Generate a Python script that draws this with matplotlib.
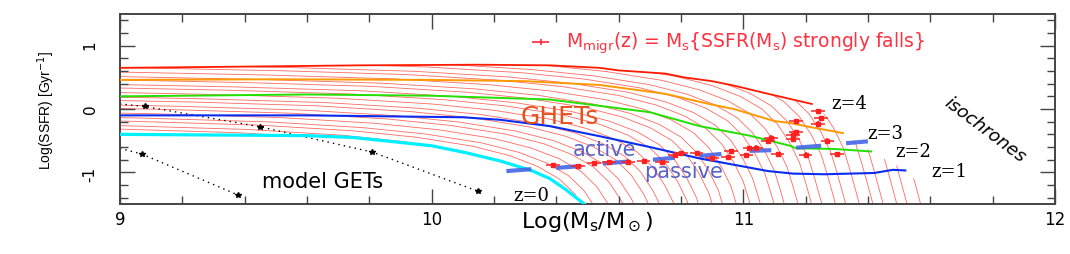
"""
SSFR versus stellar mass: isochrones from z=4 to z=0, galaxy tracks,
and the migration mass M_migr(z) where SSFR strongly falls.
"""

import numpy as np
import matplotlib
matplotlib.use('Agg')
import matplotlib.pyplot as plt
from matplotlib.patches import Polygon
from matplotlib.ticker import MultipleLocator

plt.rcParams['axes.unicode_minus'] = False

# isochrones (log Ms, log SSFR)
z4_mass = [9.0, 9.4, 9.77, 10.15, 10.38, 10.54, 10.6, 10.75, 10.81, 10.9, 10.97, 11.08, 11.15, 11.22]
z4_ssfr = [0.65, 0.67, 0.69, 0.70, 0.69, 0.65, 0.61, 0.56, 0.50, 0.44, 0.37, 0.24, 0.16, 0.08]
z3_mass = [9.0, 9.5, 10.0, 10.3, 10.54, 10.75, 10.89, 10.97, 11.1, 11.15, 11.22, 11.32]
z3_ssfr = [0.46, 0.47, 0.46, 0.44, 0.38, 0.24, 0.08, 0.0, -0.19, -0.22, -0.29, -0.38]
z2_mass = [9.0, 9.6, 10.0, 10.38, 10.54, 10.7, 10.86, 11.02, 11.15, 11.17, 11.29, 11.41]
z2_ssfr = [0.20, 0.23, 0.21, 0.15, 0.05, -0.05, -0.27, -0.42, -0.58, -0.62, -0.63, -0.67]
z1_mass = [9.0, 9.6, 10.1, 10.22, 10.38, 10.54, 10.7, 10.86, 10.97, 11.08, 11.16, 11.26, 11.34, 11.42, 11.48, 11.52]
z1_ssfr = [-0.10, -0.10, -0.13, -0.17, -0.27, -0.43, -0.60, -0.78, -0.88, -0.98, -1.02, -1.03, -1.02, -1.01, -0.96, -0.97]
z0_mass = [9.0, 9.6, 9.75, 10.0, 10.11, 10.22, 10.32, 10.38, 10.43, 10.49]
z0_ssfr = [-0.40, -0.42, -0.45, -0.58, -0.69, -0.82, -0.97, -1.10, -1.27, -1.50]

# right-hand edge of the track region
edge_mass = [11.22, 11.27, 11.32, 11.41, 11.52, 11.57, 11.60]
edge_ssfr = [0.08, -0.12, -0.38, -0.67, -0.97, -1.20, -1.50]

# one galaxy track (mass offset from its anchor, log SSFR)
track_dm = [-3.0, -2.0, -1.5, -1.1, -0.8, -0.6, -0.42, -0.30, -0.21, -0.14, -0.09, -0.05, -0.02, 0.0, 0.02, 0.05, 0.09]
track_ssfr = [0.70, 0.62, 0.57, 0.51, 0.42, 0.32, 0.18, 0.03, -0.14, -0.34, -0.58, -0.88, -1.18, -1.50, -1.85, -2.40, -3.20]
track_anchor = [10.44, 10.48, 10.51, 10.55, 10.58, 10.62, 10.66, 10.69, 10.73, 10.76, 10.80,
                10.84, 10.87, 10.91, 10.94, 10.98, 11.02, 11.05, 11.09, 11.12, 11.16, 11.20,
                11.23, 11.27, 11.30, 11.34, 11.38, 11.41, 11.45, 11.48, 11.52, 11.56, 11.59]
track_lift = 1.7  # SSFR offset per unit of anchor mass

# M_migr(z) points
migr_mass = [10.39, 10.47, 10.52, 10.57, 10.63, 10.68, 10.74, 10.78, 10.80, 10.85, 10.90, 10.95, 10.96,
             11.01, 11.02, 11.04, 11.08, 11.09, 11.11, 11.16, 11.16, 11.17, 11.17, 11.20, 11.24, 11.25,
             11.24, 11.27, 11.30]
migr_ssfr = [-0.88, -0.90, -0.85, -0.84, -0.83, -0.82, -0.84, -0.73, -0.70, -0.70, -0.77, -0.76, -0.67,
             -0.73, -0.62, -0.61, -0.50, -0.45, -0.71, -0.48, -0.41, -0.36, -0.19, -0.72, -0.03, -0.14,
             -0.23, -0.50, -0.71]

# active / passive boundary dashes
dash_x0 = [10.24, 10.40, 10.55, 10.71, 10.86, 11.02, 11.17, 11.33]
dash_x1 = [10.32, 10.48, 10.63, 10.78, 10.93, 11.09, 11.25, 11.40]
dash_y0 = [-0.98, -0.93, -0.86, -0.80, -0.74, -0.66, -0.61, -0.54]
dash_y1 = [-0.95, -0.90, -0.83, -0.77, -0.71, -0.65, -0.58, -0.51]

# model GETs
get1_mass = [9.0, 9.08, 9.45, 9.81, 10.15]
get1_ssfr = [0.08, 0.04, -0.28, -0.68, -1.30]
get2_mass = [9.0, 9.07, 9.38]
get2_ssfr = [-0.62, -0.71, -1.36]

fig = plt.figure(figsize=(10.7, 2.55), dpi=100)
ax = fig.add_axes([0.1121, 0.196, 0.8738, 0.745])
ax.set_xlim(9, 12)
ax.set_ylim(-1.5, 1.5)

# region covered by the tracks
verts = list(zip(z4_mass, z4_ssfr)) + list(zip(edge_mass[1:], edge_ssfr[1:]))
verts += list(zip(z0_mass[::-1], z0_ssfr[::-1]))
clip = Polygon(verts, closed=True, transform=ax.transData)

tx = np.array(track_dm)
ty = np.array(track_ssfr)
for a in track_anchor:
    ln, = ax.plot(tx + a, ty + track_lift * (a - 11.0), color='#ff2a1f',
                  lw=0.6, alpha=0.7, zorder=1)
    ln.set_clip_path(clip)

ax.plot(z4_mass, z4_ssfr, color='#ff1a00', lw=1.3, zorder=3)
ax.plot(z3_mass, z3_ssfr, color='#ff9900', lw=1.4, zorder=3)
ax.plot(z2_mass, z2_ssfr, color='#22e000', lw=1.4, zorder=3)
ax.plot(z1_mass, z1_ssfr, color='#0a2cf0', lw=1.5, zorder=3)
ax.plot(z0_mass, z0_ssfr, color='#00f0ff', lw=2.3, zorder=3)

for x0, x1, y0, y1 in zip(dash_x0, dash_x1, dash_y0, dash_y1):
    ax.plot([x0, x1], [y0, y1], color='#4566e6', lw=3, alpha=0.9,
            solid_capstyle='butt', zorder=4)

ax.errorbar(migr_mass, migr_ssfr, xerr=0.022, yerr=0.035, fmt='s', ms=2.8,
            color='#ff2020', elinewidth=1.1, capsize=0, zorder=5)
ax.errorbar([10.35], [1.06], xerr=0.027, yerr=0.05, fmt='none',
            ecolor='#ff2838', elinewidth=1.2, capsize=0)

ax.plot(get1_mass, get1_ssfr, color='black', lw=1, ls=(0, (1, 3)))
ax.plot(get1_mass[1:], get1_ssfr[1:], 'k*', ms=4, ls='none')
ax.plot(get2_mass, get2_ssfr, color='black', lw=1, ls=(0, (1, 3)))
ax.plot(get2_mass[1:], get2_ssfr[1:], 'k*', ms=4, ls='none')

# text
ax.text(10.43, 1.06, r'M$_\mathregular{migr}$(z) = M$_\mathregular{s}${SSFR(M$_\mathregular{s}$) strongly falls}',
        color='#ff3040', fontsize=13.5, ha='left', va='center')
ax.text(10.41, -0.11, 'GHETs', color='#e8501e', fontsize=18, ha='center', va='center')
ax.text(10.555, -0.635, 'active', color='#5862c8', fontsize=15, ha='center', va='center')
ax.text(10.81, -0.98, 'passive', color='#5862c8', fontsize=15, ha='center', va='center')
ax.text(9.65, -1.13, 'model GETs', color='black', fontsize=15, ha='center', va='center')
for zx, zy, lab in [(10.32, -1.35, 'z=0'), (11.66, -0.98, 'z=1'), (11.545, -0.67, 'z=2'),
                    (11.455, -0.38, 'z=3'), (11.34, 0.095, 'z=4')]:
    ax.text(zx, zy, lab, fontsize=13, family='DejaVu Serif', ha='center', va='center')
ax.text(11.775, -0.32, 'isochrones', fontsize=13, style='italic', rotation=-37,
        ha='center', va='center', rotation_mode='anchor')

# axes
ax.xaxis.set_major_locator(MultipleLocator(1))
ax.xaxis.set_minor_locator(MultipleLocator(0.2))
ax.yaxis.set_major_locator(MultipleLocator(1))
ax.yaxis.set_minor_locator(MultipleLocator(0.2))
ax.tick_params(which='both', direction='in', top=True, right=True, color='#444444')
ax.tick_params(which='major', length=11, width=1)
ax.tick_params(which='minor', length=6, width=1)
ax.tick_params(axis='x', pad=4, labelsize=12)
ax.tick_params(axis='y', pad=16, labelsize=11, labelrotation=90)
for s in ax.spines.values():
    s.set_color('#444444')
    s.set_linewidth(1.4)

ax.set_xlabel(r'Log(M$_\mathregular{s}$/M$_\odot$)', fontsize=16)
ax.xaxis.set_label_coords(0.5, -0.09)
ax.xaxis.label.set_va('center')
ax.set_ylabel(r'Log(SSFR) [Gyr$^{-1}$]', fontsize=10,
              family=['Liberation Sans Narrow', 'Liberation Sans'])
ax.yaxis.set_label_coords(-0.079, 0.5)
ax.yaxis.label.set_va('center')

fig.savefig('out.png', dpi=100)
